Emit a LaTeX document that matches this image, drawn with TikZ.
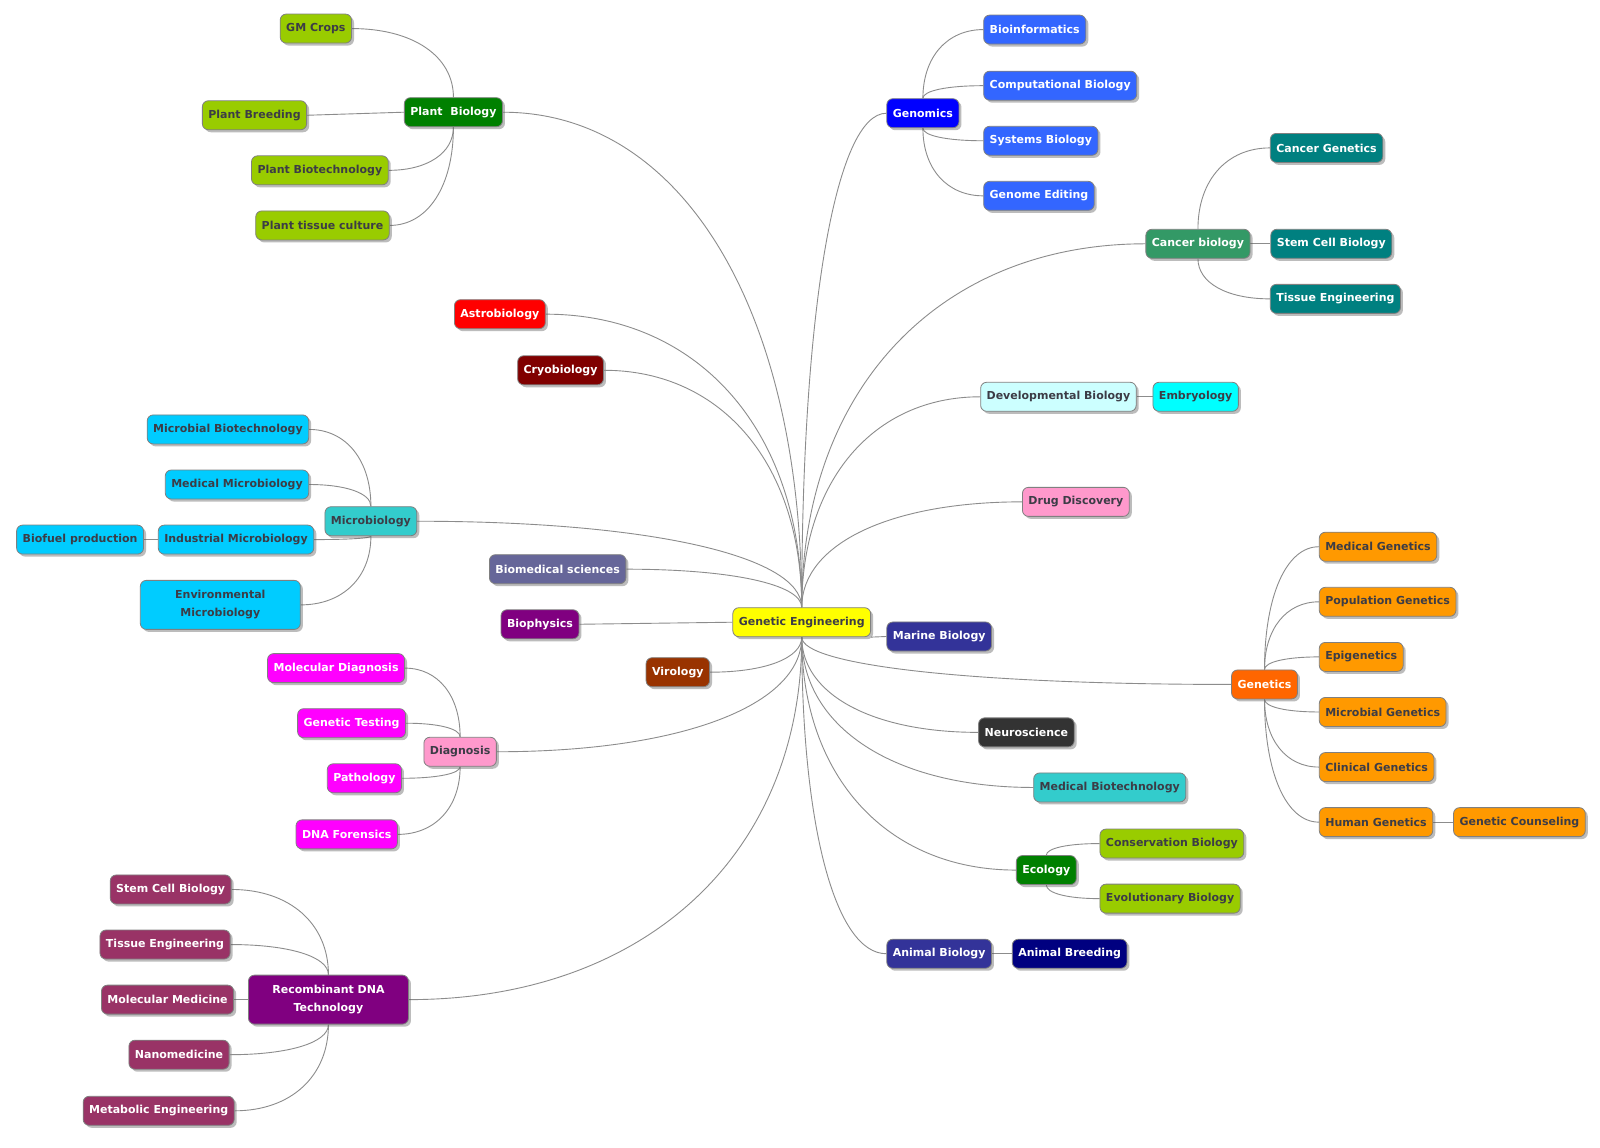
\documentclass[tikz,border=0pt]{standalone}
\usepackage{fontspec}
\setmainfont{DejaVu Sans}
\usetikzlibrary{positioning,shadows,calc,backgrounds}

\definecolor{ink}{HTML}{3C3C46}
\definecolor{cRoot}{HTML}{FFFF00}
\definecolor{cForest}{HTML}{008000}
\definecolor{cLime}{HTML}{99CC00}
\definecolor{cRed}{HTML}{FF0000}
\definecolor{cMaroon}{HTML}{800000}
\definecolor{cAqua}{HTML}{33CCCC}
\definecolor{cSky}{HTML}{00CCFF}
\definecolor{cSlate}{HTML}{666699}
\definecolor{cPurple}{HTML}{800080}
\definecolor{cRust}{HTML}{993300}
\definecolor{cPink}{HTML}{FF99CC}
\definecolor{cMagenta}{HTML}{FF00FF}
\definecolor{cPlum}{HTML}{993366}
\definecolor{cBlue}{HTML}{0000FF}
\definecolor{cRoyal}{HTML}{3366FF}
\definecolor{cSea}{HTML}{339966}
\definecolor{cTeal}{HTML}{008080}
\definecolor{cPale}{HTML}{CCFFFF}
\definecolor{cCyan}{HTML}{00FFFF}
\definecolor{cIndigo}{HTML}{333399}
\definecolor{cOrangeRed}{HTML}{FF6600}
\definecolor{cOrange}{HTML}{FF9900}
\definecolor{cCharcoal}{HTML}{333333}
\definecolor{cNavy}{HTML}{000080}

\tikzset{
  topic/.style={draw=black!50, line width=0.8pt, rounded corners=6pt,
    minimum height=29pt, inner xsep=6pt, inner ysep=3pt,
    font=\bfseries\fontsize{11}{18}\selectfont, text=ink,
    drop shadow={shadow xshift=2.5pt, shadow yshift=-2.5pt, opacity=0.4, fill=black!65}},
  pale/.style={topic, fill=#1},
  deep/.style={topic, fill=#1, text=white},
  twoline/.style={align=center, minimum width=160pt, minimum height=49pt},
  mmbranch/.style={to path={.. controls ($(\tikztostart)!0.6!(\tikztostart|-\tikztotarget)$)
    and ($(\tikztotarget)!0.6!(\tikztostart|-\tikztotarget)$) .. (\tikztotarget)}},
  link/.style={draw=black!45, line width=0.9pt}
}

\begin{document}
\begin{tikzpicture}[x=1.02pt, y=-1.02pt]

\useasboundingbox (0,0) rectangle (1568.6,1124.5);

% centre
\node[pale=cRoot] (root) at (786,610) {Genetic Engineering};

%% left half
\node[deep=cForest, anchor=east] (pb) at (493,110) {Plant\ \ Biology};
\node[pale=cLime, anchor=east] (gm) at (345,28) {GM Crops};
\node[pale=cLime, anchor=east] (pbr) at (301,113) {Plant Breeding};
\node[pale=cLime, anchor=east] (pbt) at (381,167) {Plant Biotechnology};
\node[pale=cLime, anchor=east] (ptc) at (382,221) {Plant tissue culture};

\node[deep=cRed, anchor=east] (astro) at (535,308) {Astrobiology};
\node[deep=cMaroon, anchor=east] (cryo) at (592,363) {Cryobiology};

\node[pale=cAqua, anchor=east] (micro) at (409,511) {Microbiology};
\node[pale=cSky, anchor=east] (mbt) at (303,421) {Microbial Biotechnology};
\node[pale=cSky, anchor=east] (mmb) at (303,475) {Medical Microbiology};
\node[pale=cSky, anchor=east] (imb) at (308,529) {Industrial Microbiology};
\node[pale=cSky, left=14pt of imb] (bfp) {Biofuel production};
\node[pale=cSky, twoline] (emb) at (216,593) {Environmental\\Microbiology};

\node[deep=cSlate, anchor=east] (bms) at (614,558) {Biomedical sciences};
\node[deep=cPurple, anchor=east] (bph) at (568,612) {Biophysics};
\node[deep=cRust, anchor=east] (viro) at (696,659) {Virology};

\node[pale=cPink, anchor=east] (diag) at (487,737) {Diagnosis};
\node[deep=cMagenta, anchor=east] (mdx) at (397,655) {Molecular Diagnosis};
\node[deep=cMagenta, anchor=east] (gtest) at (398,709) {Genetic Testing};
\node[deep=cMagenta, anchor=east] (patho) at (394,763) {Pathology};
\node[deep=cMagenta, anchor=east] (dnaf) at (390,818) {DNA Forensics};

\node[deep=cPurple, twoline] (rdna) at (322,980) {Recombinant DNA\\Technology};
\node[deep=cPlum, anchor=east] (scbL) at (227,872) {Stem Cell Biology};
\node[deep=cPlum, anchor=east] (teL) at (226,926) {Tissue Engineering};
\node[deep=cPlum, left=14pt of rdna] (molmed) {Molecular Medicine};
\node[deep=cPlum, anchor=east] (nano) at (225,1034) {Nanomedicine};
\node[deep=cPlum, anchor=east] (meteng) at (230,1089) {Metabolic Engineering};

%% right half
\node[deep=cBlue, anchor=west] (genom) at (869,111) {Genomics};
\node[deep=cRoyal, anchor=west] (binf) at (964,29) {Bioinformatics};
\node[deep=cRoyal, anchor=west] (cbio) at (964,84) {Computational Biology};
\node[deep=cRoyal, anchor=west] (sysb) at (964,138) {Systems Biology};
\node[deep=cRoyal, anchor=west] (gedit) at (964,192) {Genome Editing};

\node[deep=cSea, anchor=west] (canc) at (1123,239) {Cancer biology};
\node[deep=cTeal, anchor=west] (cgen) at (1245,145) {Cancer Genetics};
\node[deep=cTeal, right=20pt of canc] (scbR) {Stem Cell Biology};
\node[deep=cTeal, anchor=west] (teR) at (1245,293) {Tissue Engineering};

\node[pale=cPale, anchor=west] (devb) at (961,389) {Developmental Biology};
\node[pale=cCyan, right=16pt of devb] (embr) {Embryology};
\node[pale=cPink, anchor=west] (drug) at (1002,492) {Drug Discovery};
\node[deep=cIndigo, anchor=west] (marine) at (869,624) {Marine Biology};

\node[deep=cOrangeRed, anchor=west] (genet) at (1207,671) {Genetics};
\node[pale=cOrange, anchor=west] (medg) at (1293,536) {Medical Genetics};
\node[pale=cOrange, anchor=west] (popg) at (1293,590) {Population Genetics};
\node[pale=cOrange, anchor=west] (epig) at (1293,644) {Epigenetics};
\node[pale=cOrange, anchor=west] (micg) at (1293,698) {Microbial Genetics};
\node[pale=cOrange, anchor=west] (clig) at (1293,752) {Clinical Genetics};
\node[pale=cOrange, anchor=west] (humg) at (1293,806) {Human Genetics};
\node[pale=cOrange, right=20pt of humg] (gcoun) {Genetic Counseling};

\node[deep=cCharcoal, anchor=west] (neuro) at (959,718) {Neuroscience};
\node[pale=cAqua, anchor=west] (medbt) at (1013,772) {Medical Biotechnology};
\node[deep=cForest, anchor=west] (eco) at (996,853) {Ecology};
\node[pale=cLime, anchor=west] (cons) at (1078,827) {Conservation Biology};
\node[pale=cLime, anchor=west] (evo) at (1078,881) {Evolutionary Biology};
\node[deep=cIndigo, anchor=west] (anim) at (869,935) {Animal Biology};
\node[deep=cNavy, right=20pt of anim] (abreed) {Animal Breeding};

%% links, under the boxes
\begin{scope}[on background layer]
\fill[white] (0,0) rectangle (1568.6,1124.5);

% from the centre
\foreach \kid in {pb, astro, cryo, micro, bms}
  \draw[link, mmbranch] (root.north) to (\kid.east);
\foreach \kid in {viro, diag, rdna}
  \draw[link, mmbranch] (root.south) to (\kid.east);
\foreach \kid in {genom, canc, devb, drug}
  \draw[link, mmbranch] (root.north) to (\kid.west);
\foreach \kid in {genet, neuro, medbt, eco, anim}
  \draw[link, mmbranch] (root.south) to (\kid.west);
\draw[link] (bph.east) -- (root.west);
\draw[link] (root.south east) -- (marine.west);

% left sub-branches
\draw[link, mmbranch] (pb.north) to (gm.east);
\draw[link] (pbr.east) -- (pb.west);
\draw[link, mmbranch] (pb.south) to (pbt.east);
\draw[link, mmbranch] (pb.south) to (ptc.east);

\draw[link, mmbranch] (micro.north) to (mbt.east);
\draw[link, mmbranch] (micro.north) to (mmb.east);
\draw[link, mmbranch] (micro.south) to (imb.east);
\draw[link, mmbranch] (micro.south) to (emb.east);
\draw[link] (bfp.east) -- (imb.west);

\draw[link, mmbranch] (diag.north) to (mdx.east);
\draw[link, mmbranch] (diag.north) to (gtest.east);
\draw[link, mmbranch] (diag.south) to (patho.east);
\draw[link, mmbranch] (diag.south) to (dnaf.east);

\draw[link, mmbranch] (rdna.north) to (scbL.east);
\draw[link, mmbranch] (rdna.north) to (teL.east);
\draw[link] (molmed.east) -- (rdna.west);
\draw[link, mmbranch] (rdna.south) to (nano.east);
\draw[link, mmbranch] (rdna.south) to (meteng.east);

% right sub-branches
\draw[link, mmbranch] (genom.north) to (binf.west);
\draw[link, mmbranch] (genom.north) to (cbio.west);
\draw[link, mmbranch] (genom.south) to (sysb.west);
\draw[link, mmbranch] (genom.south) to (gedit.west);

\draw[link, mmbranch] (canc.north) to (cgen.west);
\draw[link] (canc.east) -- (scbR.west);
\draw[link, mmbranch] (canc.south) to (teR.west);

\draw[link] (devb.east) -- (embr.west);

\foreach \kid in {medg, popg, epig}
  \draw[link, mmbranch] (genet.north) to (\kid.west);
\foreach \kid in {micg, clig, humg}
  \draw[link, mmbranch] (genet.south) to (\kid.west);
\draw[link] (humg.east) -- (gcoun.west);

\draw[link, mmbranch] (eco.north) to (cons.west);
\draw[link, mmbranch] (eco.south) to (evo.west);
\draw[link] (anim.east) -- (abreed.west);
\end{scope}

\end{tikzpicture}
\end{document}
